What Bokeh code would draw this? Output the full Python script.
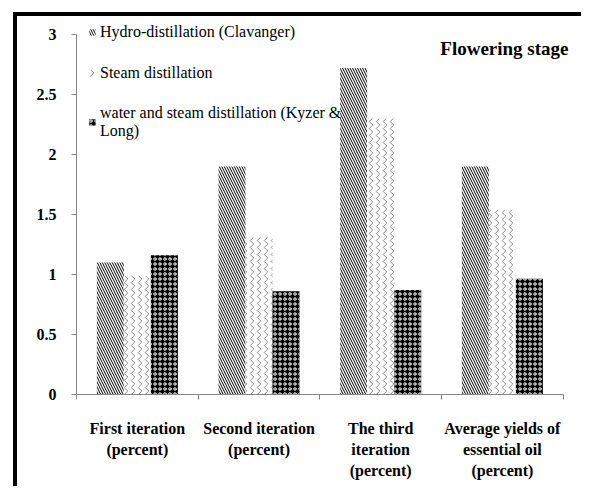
from bokeh.plotting import figure
from bokeh.models import (ColumnDataSource, FixedTicker, Legend, LegendItem, Label, Range1d)
from bokeh.transform import dodge
from bokeh.embed import file_html
from bokeh.resources import INLINE

categories = ["First iteration\n(percent)", "Second iteration\n(percent)",
              "The third\niteration\n(percent)", "Average yields of\nessential oil\n(percent)"]
hydro = [1.10, 1.90, 2.72, 1.90]
steam = [0.99, 1.31, 2.30, 1.54]
water_steam = [1.16, 0.86, 0.87, 0.965]
series_names = ["Hydro-distillation (Clavanger)", "Steam distillation",
                "water and steam distillation (Kyzer &\nLong)"]
y_ticks = [0, 0.5, 1, 1.5, 2, 2.5, 3]
y_max = 3

centers = [i + 0.5 for i in range(len(categories))]
src = ColumnDataSource(dict(x=centers, hydro=hydro, steam=steam, ws=water_steam))

FONT = "Liberation Serif"
W, H = 568, 474
BL, BR, BT, BB = 59, 15, 6, 96
p = figure(width=W, height=H, output_backend="svg", toolbar_location=None,
           x_range=Range1d(0, len(categories) + 0.06), y_range=Range1d(0, y_max + 0.1),
           min_border_left=BL, min_border_right=BR, min_border_top=BT, min_border_bottom=BB)
p.margin = (8, 0, 0, 9)
p.styles = {"border-left": "4px solid black", "border-top": "4px solid black",
            "position": "relative", "left": "4px", "top": "4px"}
p.outline_line_color = None
p.xgrid.grid_line_color = None
p.ygrid.grid_line_color = None

bw = 0.222
r1 = p.vbar(x=dodge("x", -bw, range=p.x_range), top="hydro", width=bw, source=src,
            fill_color="white", line_color=None,
            hatch_pattern="left_diagonal_line", hatch_color="black", hatch_scale=5, hatch_weight=1)
r2 = p.vbar(x=dodge("x", 0, range=p.x_range), top="steam", width=bw, source=src,
            fill_color="white", line_color=None,
            hatch_pattern="vertical_wave", hatch_color="#555555", hatch_scale=7, hatch_weight=0.7)
r3 = p.vbar(x=dodge("x", bw, range=p.x_range), top="ws", width=bw, source=src,
            fill_color="black", line_color=None,
            hatch_pattern="ring", hatch_color="white", hatch_scale=5, hatch_weight=1)

ax = p.xaxis[0]
ax.bounds = (0, len(categories))
ax.ticker = FixedTicker(ticks=centers, minor_ticks=list(range(len(categories) + 1)))
ax.major_label_overrides = {c: lab for c, lab in zip(centers, categories)}
ax.major_tick_out = 0
ax.major_tick_in = 0
ax.minor_tick_out = 5
ax.minor_tick_in = 0
ax.minor_tick_line_color = "#868686"
ax.axis_line_color = "#868686"
ax.major_label_standoff = 20
ax.major_label_text_font = FONT
ax.major_label_text_font_style = "bold"
ax.major_label_text_font_size = "16px"
ax.major_label_text_line_height = 1.25
ax.major_label_text_color = "black"

ay = p.yaxis[0]
ay.bounds = (0, y_max)
ay.ticker = FixedTicker(ticks=y_ticks)
ay.major_label_overrides = {0: "0", 1: "1", 2: "2", 3: "3"}
ay.axis_line_color = "#868686"
ay.major_tick_line_color = "#868686"
ay.major_tick_out = 5
ay.major_tick_in = 0
ay.minor_tick_line_color = None
ay.major_label_standoff = 15
ay.major_label_text_font = FONT
ay.major_label_text_font_style = "bold"
ay.major_label_text_font_size = "16px"
ay.major_label_text_color = "black"

legend = Legend(items=[LegendItem(label=series_names[0], renderers=[r1]),
                       LegendItem(label=series_names[1], renderers=[r2]),
                       LegendItem(label=series_names[2], renderers=[r3])],
                location=(12, 254), border_line_color=None,
                background_fill_alpha=0,
                glyph_width=8, glyph_height=8, label_text_font=FONT,
                label_text_font_size="16px", label_text_color="black",
                label_text_line_height=1.05,
                spacing=21, padding=0, margin=0,
                label_standoff=4, label_height=20)
p.add_layout(legend, "center")

title = Label(x=492, y=346, x_units="screen", y_units="screen",
              text="Flowering stage", text_font=FONT, text_font_style="bold",
              text_font_size="19px", text_align="right", text_baseline="alphabetic",
              text_color="black")
p.add_layout(title)

open("out.html", "w").write(file_html(p, INLINE))
